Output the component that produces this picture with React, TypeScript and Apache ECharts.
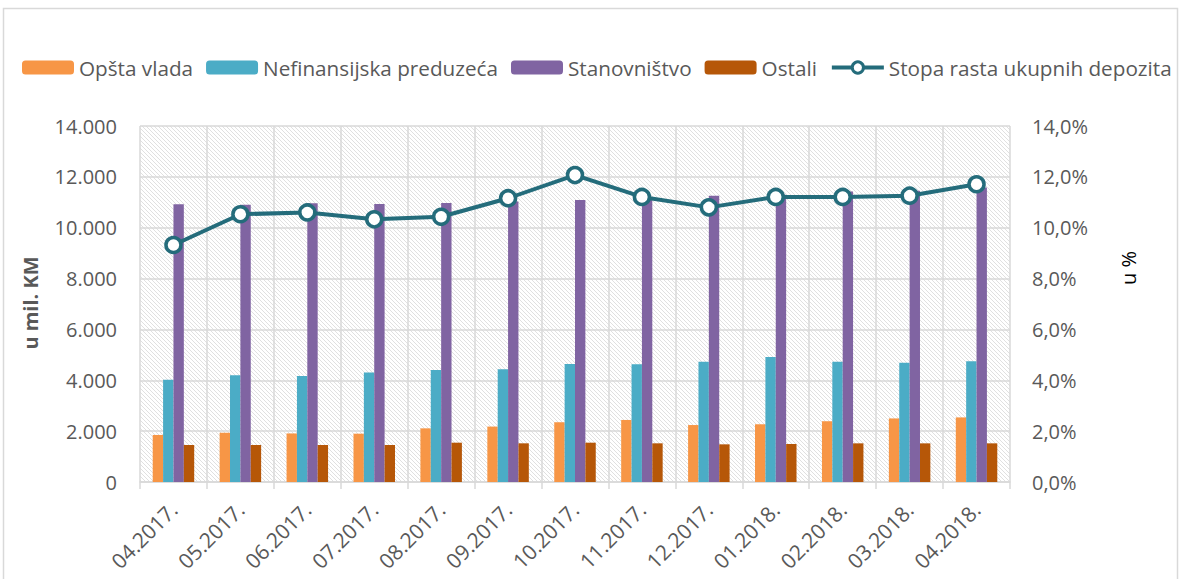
import React, { useEffect, useRef } from "react";
import * as echarts from "echarts";

const categories = ["04.2017.", "05.2017.", "06.2017.", "07.2017.", "08.2017.", "09.2017.", "10.2017.", "11.2017.", "12.2017.", "01.2018.", "02.2018.", "03.2018.", "04.2018."];
const opstaVlada = [1850, 1940, 1910, 1900, 2110, 2180, 2350, 2440, 2240, 2270, 2390, 2500, 2540];
const nefinansijska = [4020, 4200, 4170, 4310, 4400, 4430, 4640, 4630, 4730, 4920, 4730, 4690, 4750];
const stanovnistvo = [10920, 10900, 10960, 10930, 10970, 11030, 11090, 11150, 11260, 11300, 11420, 11450, 11580];
const ostali = [1455, 1455, 1455, 1455, 1546, 1521, 1546, 1521, 1481, 1494, 1520, 1520, 1520];
const stopaRasta = [9.32, 10.53, 10.6, 10.33, 10.43, 11.16, 12.07, 11.21, 10.8, 11.21, 11.21, 11.26, 11.71];
const leftTicks = { min: 0, max: 14000, interval: 2000 };
const rightTicks = { min: 0, max: 14, interval: 2 };

const FONT = "'Open Sans', sans-serif";
const TXT = "#595959";
const GRID = "#d9d9d9";
const LINE = "#246C7B";

function makeHatch(): HTMLCanvasElement {
  const c = document.createElement("canvas");
  c.width = 4;
  c.height = 4;
  const ctx = c.getContext("2d")!;
  ctx.fillStyle = "#ffffff";
  ctx.fillRect(0, 0, 4, 4);
  ctx.strokeStyle = "#e0e0e0";
  ctx.lineWidth = 1;
  ctx.beginPath();
  ctx.moveTo(-1, -1);
  ctx.lineTo(5, 5);
  ctx.moveTo(-1, 3);
  ctx.lineTo(1, 5);
  ctx.moveTo(3, -1);
  ctx.lineTo(5, 1);
  ctx.stroke();
  return c;
}

export default function App() {
  const ref = useRef<HTMLDivElement>(null);
  useEffect(() => {
    if (!ref.current) return;
    const chart = echarts.init(ref.current, undefined, { renderer: "svg" });
    const hatch = makeHatch();
    const fmtLeft = (v: number) => String(v).replace(/\B(?=(\d{3})+(?!\d))/g, ".");
    const fmtRight = (v: number) => v.toFixed(1).replace(".", ",") + "%";
    chart.setOption({
      animation: false,
      backgroundColor: "#ffffff",
      textStyle: { fontFamily: FONT },
      legend: {
        left: 22,
        top: 57,
        padding: 0,
        itemWidth: 52,
        itemHeight: 14,
        itemGap: 13,
        textStyle: { fontFamily: FONT, fontSize: 20.7, color: TXT },
        data: [
          "Opšta vlada",
          "Nefinansijska preduzeća",
          "Stanovništvo",
          "Ostali",
          {
            name: "Stopa rasta ukupnih depozita",
            lineStyle: { width: 4, color: LINE },
            itemStyle: { color: "#ffffff", borderColor: LINE, borderWidth: 3 },
          },
        ],
      },
      grid: {
        left: 140,
        right: 173,
        top: 126,
        bottom: 97,
        show: true,
        borderWidth: 0,
        backgroundColor: { image: hatch, repeat: "repeat", imageWidth: 4, imageHeight: 4 },
      },
      graphic: [
        {
          type: "rect",
          shape: { x: 3.5, y: 8.5, width: 1174, height: 620 },
          style: { fill: "none", stroke: GRID, lineWidth: 1.5 },
          silent: true,
          z: -1,
        },
        {
          type: "text",
          x: 30,
          y: 303,
          rotation: Math.PI / 2,
          style: { text: "u mil. KM", font: `bold 20px ${FONT}`, fill: TXT, align: "center", verticalAlign: "middle" },
        },
        {
          type: "text",
          x: 1128,
          y: 268,
          rotation: Math.PI / 2,
          style: { text: "u %", font: `20px ${FONT}`, fill: "#000000", align: "center", verticalAlign: "middle" },
        },
      ],
      xAxis: {
        type: "category",
        data: categories,
        boundaryGap: true,
        axisLine: { show: true, lineStyle: { color: GRID, width: 1.5 } },
        axisTick: { show: true, length: 7, lineStyle: { color: GRID, width: 1.5 } },
        splitLine: { show: true, lineStyle: { color: GRID, width: 1.5 } },
        axisLabel: { rotate: 45, margin: 24, fontSize: 21, color: TXT, fontFamily: FONT, interval: 0 },
      },
      yAxis: [
        {
          type: "value",
          ...leftTicks,
          axisLine: { show: false },
          axisTick: { show: false },
          splitLine: { show: true, lineStyle: { color: GRID, width: 1.5 } },
          axisLabel: { margin: 23, fontSize: 20, color: TXT, fontFamily: FONT, formatter: fmtLeft },
        },
        {
          type: "value",
          ...rightTicks,
          position: "right",
          axisLine: { show: false },
          axisTick: { show: false },
          splitLine: { show: false },
          axisLabel: { margin: 22, fontSize: 20, color: TXT, fontFamily: FONT, formatter: fmtRight },
        },
      ],
      series: [
        { name: "Opšta vlada", type: "bar", data: opstaVlada, itemStyle: { color: "#F79646" }, barGap: "0%", barCategoryGap: "38%" },
        { name: "Nefinansijska preduzeća", type: "bar", data: nefinansijska, itemStyle: { color: "#4BACC6" }, barGap: "0%", barCategoryGap: "38%" },
        { name: "Stanovništvo", type: "bar", data: stanovnistvo, itemStyle: { color: "#8064A2" }, barGap: "0%", barCategoryGap: "38%" },
        { name: "Ostali", type: "bar", data: ostali, itemStyle: { color: "#B65708" }, barGap: "0%", barCategoryGap: "38%" },
        {
          name: "Stopa rasta ukupnih depozita",
          type: "line",
          yAxisIndex: 1,
          data: stopaRasta,
          symbol: "circle",
          symbolSize: 15,
          lineStyle: { color: LINE, width: 4 },
          itemStyle: { color: "#ffffff", borderColor: LINE, borderWidth: 3.5 },
          z: 5,
        },
      ],
    });
    return () => chart.dispose();
  }, []);
  return <div ref={ref} style={{ position: "fixed", left: 0, top: 0, width: 1183, height: 579 }} />;
}
